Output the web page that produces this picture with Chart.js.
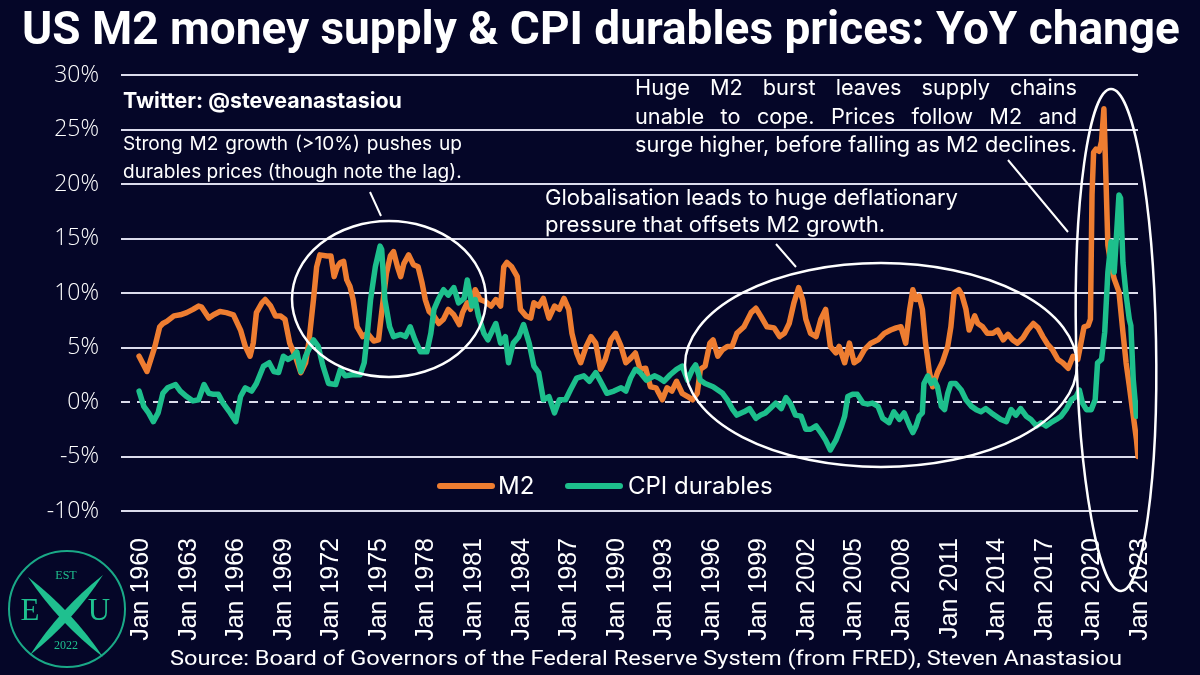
<!DOCTYPE html>
<html>
<head>
<meta charset="utf-8">
<script src="https://cdn.jsdelivr.net/npm/chart.js@4.4.0/dist/chart.umd.min.js"></script>
<style>
  html, body { margin: 0; padding: 0; background: #050628; }
  canvas { display: block; }
</style>
</head>
<body>
<canvas id="chart" width="1200" height="675"></canvas>
<script>
// values (YoY %, dates as decimal years)
const m2Years = [
  1960.0, 1960.5, 1961.0, 1961.3, 1961.5, 1961.75, 1962.2, 1962.6, 1963.0, 1963.4, 1963.75, 1963.95,
  1964.4, 1964.7, 1965.1, 1965.5, 1965.95, 1966.4, 1966.7, 1967.0, 1967.2, 1967.4, 1967.75, 1967.95,
  1968.3, 1968.6, 1968.9, 1969.2, 1969.5, 1969.85, 1970.2, 1970.5, 1970.7, 1971.0, 1971.2, 1971.4,
  1971.85, 1972.1, 1972.3, 1972.5, 1972.7, 1972.9, 1973.1, 1973.3, 1973.5, 1973.75, 1974.1, 1974.4,
  1974.8, 1975.1, 1975.3, 1975.6, 1975.85, 1976.05, 1976.3, 1976.5, 1976.7, 1977.0, 1977.3, 1977.6,
  1977.85, 1978.05, 1978.3, 1978.6, 1978.9, 1979.2, 1979.5, 1979.85, 1980.2, 1980.4, 1980.7, 1980.9,
  1981.2, 1981.5, 1981.85, 1982.2, 1982.5, 1982.8, 1983.0, 1983.2, 1983.5, 1983.85, 1984.05, 1984.4,
  1984.7, 1984.9, 1985.2, 1985.5, 1985.85, 1986.2, 1986.5, 1986.8, 1987.1, 1987.3, 1987.6, 1987.85,
  1988.2, 1988.5, 1988.8, 1989.1, 1989.4, 1989.75, 1990.05, 1990.4, 1990.7, 1991.0, 1991.3, 1991.6,
  1991.95, 1992.25, 1992.6, 1993.0, 1993.3, 1993.6, 1993.9, 1994.25, 1994.6, 1994.9, 1995.2, 1995.4,
  1995.7, 1996.0, 1996.2, 1996.5, 1996.8, 1997.1, 1997.4, 1997.7, 1998.15, 1998.6, 1998.9, 1999.2,
  1999.6, 2000.05, 2000.4, 2000.7, 2001.0, 2001.3, 2001.6, 2001.85, 2002.05, 2002.35, 2002.7, 2003.0,
  2003.3, 2003.6, 2003.95, 2004.15, 2004.5, 2004.8, 2005.1, 2005.4, 2005.75, 2006.15, 2006.6, 2007.0,
  2007.4, 2007.75, 2008.05, 2008.35, 2008.6, 2008.8, 2009.0, 2009.2, 2009.4, 2009.6, 2009.85, 2010.05,
  2010.35, 2010.65, 2011.0, 2011.2, 2011.4, 2011.7, 2011.9, 2012.15, 2012.35, 2012.7, 2012.9, 2013.2,
  2013.5, 2013.85, 2014.15, 2014.5, 2014.8, 2015.1, 2015.4, 2015.75, 2016.05, 2016.4, 2016.7, 2017.0,
  2017.3, 2017.6, 2017.95, 2018.25, 2018.6, 2018.9, 2019.2, 2019.4, 2019.6, 2019.85, 2020.0, 2020.1,
  2020.2, 2020.35, 2020.55, 2020.7, 2020.85, 2021.1, 2021.3, 2021.5, 2021.8, 2022.05, 2022.25, 2022.45,
  2022.65, 2022.9, 2023.0
];
const m2Values = [
  4.2, 2.8, 5.1, 6.9, 7.2, 7.4, 7.9, 8.0, 8.2, 8.5, 8.8, 8.7,
  7.7, 8.0, 8.3, 8.2, 8.0, 6.6, 5.1, 4.2, 5.4, 8.2, 9.1, 9.4,
  8.8, 7.9, 7.9, 7.6, 5.4, 4.2, 2.7, 3.6, 5.4, 9.4, 12.4, 13.5,
  13.4, 13.4, 11.5, 12.4, 12.8, 12.9, 11.2, 10.6, 9.4, 6.9, 6.0, 6.3,
  5.6, 5.7, 8.2, 11.8, 13.4, 13.8, 12.4, 11.5, 12.7, 13.5, 12.6, 12.4,
  10.9, 9.4, 8.3, 7.9, 7.2, 7.6, 8.5, 8.0, 7.1, 8.2, 9.1, 8.5,
  10.3, 9.4, 9.2, 8.8, 9.4, 8.8, 12.4, 12.8, 12.4, 11.5, 8.5, 7.9,
  7.7, 9.1, 8.8, 9.5, 7.7, 8.8, 8.5, 9.5, 8.5, 6.3, 4.5, 3.6,
  5.1, 6.0, 5.4, 3.0, 3.9, 5.7, 6.3, 5.1, 3.6, 4.0, 4.5, 3.0,
  3.1, 1.4, 1.3, 0.2, 1.3, 1.0, 1.9, 0.8, 0.5, 0.2, 0.8, 3.0,
  3.3, 5.4, 5.7, 4.2, 4.8, 5.1, 5.1, 6.3, 6.9, 8.2, 8.6, 7.9,
  6.9, 6.8, 6.0, 6.3, 7.2, 9.1, 10.5, 9.4, 7.6, 6.3, 6.0, 7.6,
  8.5, 5.1, 4.5, 5.1, 3.6, 5.4, 3.6, 3.9, 4.8, 5.4, 5.7, 6.3,
  6.6, 6.8, 6.9, 5.4, 8.5, 10.3, 9.4, 9.7, 8.5, 5.4, 2.7, 1.4,
  2.7, 3.6, 5.1, 6.9, 10.0, 10.3, 9.8, 8.5, 6.6, 7.9, 7.2, 6.9,
  6.3, 6.3, 6.6, 5.7, 6.2, 5.7, 5.4, 5.9, 6.6, 7.2, 6.8, 6.0,
  5.3, 4.8, 3.9, 3.6, 3.1, 4.2, 3.9, 5.4, 6.9, 7.0, 7.6, 19.0,
  22.9, 23.2, 23.0, 23.9, 26.9, 14.4, 12.5, 11.3, 10.1, 6.4, 3.6, 1.5,
  -0.7, -3.4, -5.0
];
const cpiYears = [
  1960.0, 1960.3, 1960.6, 1960.9, 1961.2, 1961.5, 1961.8, 1962.3, 1962.6, 1963.0, 1963.4, 1963.75,
  1964.1, 1964.4, 1964.7, 1965.0, 1965.3, 1965.75, 1966.1, 1966.4, 1966.7, 1967.1, 1967.4, 1967.85,
  1968.2, 1968.5, 1968.8, 1969.1, 1969.4, 1969.75, 1969.95, 1970.2, 1970.5, 1970.8, 1971.0, 1971.3,
  1971.6, 1971.95, 1972.4, 1972.7, 1973.0, 1973.45, 1973.95, 1974.2, 1974.4, 1974.6, 1974.9, 1975.2,
  1975.3, 1975.5, 1975.8, 1976.05, 1976.5, 1976.8, 1977.1, 1977.4, 1977.75, 1978.15, 1978.4, 1978.6,
  1978.9, 1979.2, 1979.5, 1979.85, 1980.15, 1980.5, 1980.7, 1981.0, 1981.2, 1981.4, 1981.75, 1982.0,
  1982.3, 1982.5, 1982.8, 1983.1, 1983.3, 1983.6, 1983.95, 1984.25, 1984.6, 1984.9, 1985.2, 1985.5,
  1985.85, 1986.2, 1986.5, 1986.9, 1987.2, 1987.6, 1988.05, 1988.4, 1988.8, 1989.1, 1989.5, 1989.95,
  1990.4, 1990.7, 1991.0, 1991.3, 1991.6, 1992.0, 1992.5, 1992.8, 1993.1, 1993.5, 1993.9, 1994.25,
  1994.6, 1994.9, 1995.1, 1995.4, 1995.7, 1996.2, 1996.5, 1996.8, 1997.1, 1997.4, 1997.7, 1998.15,
  1998.5, 1998.9, 1999.2, 1999.5, 1999.8, 2000.15, 2000.5, 2000.8, 2001.1, 2001.4, 2001.75, 2002.05,
  2002.35, 2002.7, 2003.0, 2003.3, 2003.6, 2003.95, 2004.3, 2004.5, 2004.7, 2005.0, 2005.3, 2005.65,
  2005.95, 2006.25, 2006.6, 2006.9, 2007.3, 2007.6, 2007.95, 2008.25, 2008.6, 2008.8, 2009.0, 2009.2,
  2009.4, 2009.5, 2009.75, 2009.95, 2010.15, 2010.35, 2010.6, 2010.8, 2011.0, 2011.2, 2011.5, 2011.85,
  2012.15, 2012.5, 2012.8, 2013.1, 2013.4, 2013.75, 2014.05, 2014.35, 2014.7, 2015.0, 2015.3, 2015.6,
  2015.95, 2016.25, 2016.6, 2016.9, 2017.2, 2017.5, 2017.85, 2018.15, 2018.5, 2018.8, 2019.1, 2019.3,
  2019.5, 2019.75, 2020.05, 2020.3, 2020.45, 2020.7, 2020.9, 2021.1, 2021.3, 2021.5, 2021.8, 2021.9,
  2022.05, 2022.25, 2022.45, 2022.55, 2022.7, 2022.9, 2023.0
];
const cpiValues = [
  1.0, -0.4, -1.0, -1.8, -1.0, 0.8, 1.3, 1.6, 1.0, 0.5, 0.1, 0.2,
  1.6, 0.8, 0.7, 0.7, -0.1, -1.0, -1.8, 0.5, 1.3, 1.0, 1.7, 3.3,
  3.6, 2.8, 2.7, 4.2, 3.9, 4.2, 4.6, 2.8, 4.2, 5.1, 5.7, 5.1,
  3.3, 1.7, 1.6, 3.0, 2.4, 2.5, 2.5, 3.6, 6.3, 9.4, 12.4, 14.3,
  14.0, 9.4, 6.9, 6.0, 6.2, 6.0, 6.9, 5.7, 4.6, 4.6, 6.3, 8.5,
  9.5, 10.3, 9.8, 10.5, 9.1, 9.5, 11.2, 8.8, 9.4, 7.9, 6.3, 5.7,
  6.6, 7.2, 5.4, 6.0, 3.6, 5.4, 6.0, 7.1, 5.4, 3.3, 2.7, 0.2,
  0.5, -1.0, 0.2, 0.2, 1.1, 2.2, 2.4, 1.9, 2.7, 1.9, 0.8, 1.0,
  1.3, 1.0, 2.2, 3.0, 2.7, 2.0, 2.4, 2.2, 1.9, 2.5, 3.0, 3.3,
  2.0, 3.0, 3.4, 2.0, 1.7, 1.4, 1.1, 0.8, 0.2, -0.6, -1.2, -0.9,
  -0.6, -1.5, -1.2, -1.0, -0.6, -0.1, -0.6, 0.4, -0.2, -1.2, -1.3, -2.5,
  -2.5, -2.2, -2.8, -3.5, -4.4, -3.5, -2.2, -1.3, 0.5, 0.7, 0.7, -0.1,
  -0.2, -0.1, -0.4, -1.5, -1.9, -0.9, -1.6, -1.0, -2.2, -2.8, -2.2, -1.3,
  -1.0, 1.7, 2.4, 1.7, 2.0, 1.4, -0.4, -0.7, 0.8, 1.7, 1.7, 1.1,
  0.2, -0.4, -0.7, -0.9, -0.6, -1.0, -1.3, -1.6, -1.8, -0.7, -1.2, -0.6,
  -1.3, -1.6, -2.2, -1.9, -2.2, -1.9, -1.6, -1.3, -0.6, 0.2, 0.5, 1.1,
  -0.1, -0.7, -0.7, 0.2, 3.6, 3.9, 6.4, 11.9, 14.7, 11.9, 19.0, 18.7,
  12.8, 9.8, 7.6, 7.0, 2.1, -1.3, -0.1
];
const yearTicks = [1960, 1963, 1966, 1969, 1972, 1975, 1978, 1981, 1984, 1987, 1990,
  1993, 1996, 1999, 2002, 2005, 2008, 2011, 2014, 2017, 2020, 2023];
const seriesNames = ['M2', 'CPI durables'];
const seriesColors = ['#ee7d31', '#1dbf8c'];

const BG = '#050628';
const WHITE = '#ffffff';

function fitFont(ctx, text, weight, family, width) {
  ctx.font = weight + ' 100px ' + family;
  const size = 100 * width / ctx.measureText(text).width;
  return weight + ' ' + size.toFixed(2) + 'px ' + family;
}

function justify(ctx, text, x, y, width) {
  const words = text.split(' ');
  const total = words.reduce((s, w) => s + ctx.measureText(w).width, 0);
  const gap = (width - total) / (words.length - 1);
  let cx = x;
  words.forEach(w => {
    ctx.fillText(w, cx, y);
    cx += ctx.measureText(w).width + gap;
  });
}

function blade(ctx, x1, y1, x2, y2, w) {
  const mx = (x1 + x2) / 2, my = (y1 + y2) / 2;
  const len = Math.hypot(x2 - x1, y2 - y1);
  const nx = -(y2 - y1) / len * w, ny = (x2 - x1) / len * w;
  ctx.beginPath();
  ctx.moveTo(x1, y1);
  ctx.quadraticCurveTo(mx + nx, my + ny, x2, y2);
  ctx.quadraticCurveTo(mx - nx, my - ny, x1, y1);
  ctx.fill();
}

const decor = {
  id: 'decor',
  beforeDraw(chart) {
    const ctx = chart.ctx;
    ctx.save();
    ctx.fillStyle = BG;
    ctx.fillRect(0, 0, chart.width, chart.height);
    ctx.restore();
  },
  beforeDatasetsDraw(chart) {
    const ctx = chart.ctx;
    const area = chart.chartArea;
    const y0 = chart.scales.y.getPixelForValue(0);
    ctx.save();
    ctx.strokeStyle = '#dcdcec';
    ctx.lineWidth = 2;
    ctx.setLineDash([9, 7]);
    ctx.beginPath();
    ctx.moveTo(area.left, y0);
    ctx.lineTo(area.right, y0);
    ctx.stroke();
    ctx.restore();
  },
  afterDraw(chart) {
    const ctx = chart.ctx;
    ctx.save();
    ctx.fillStyle = WHITE;
    ctx.textBaseline = 'middle';
    ctx.textAlign = 'left';

    // title
    const title = 'US M2 money supply & CPI durables prices: YoY change';
    ctx.font = fitFont(ctx, title, 'bold', 'Roboto, "Liberation Sans", sans-serif', 1158);
    ctx.fillText(title, 22, 33);

    // annotations
    const tw = 'Twitter: @steveanastasiou';
    ctx.font = fitFont(ctx, tw, '700', 'Inter, sans-serif', 279);
    ctx.fillText(tw, 123, 102);

    ctx.font = fitFont(ctx, 'durables prices (though note the lag).', '400', 'Inter, sans-serif', 339);
    justify(ctx, 'Strong M2 growth (>10%) pushes up', 123, 144, 339);
    ctx.fillText('durables prices (though note the lag).', 123, 172);

    ctx.font = fitFont(ctx, 'Globalisation leads to huge deflationary', '400', 'Inter, sans-serif', 413);
    ctx.fillText('Globalisation leads to huge deflationary', 545, 198);
    ctx.fillText('pressure that offsets M2 growth.', 545, 225);

    ctx.font = fitFont(ctx, 'surge higher, before falling as M2 declines.', '400', 'Inter, sans-serif', 442);
    justify(ctx, 'Huge M2 burst leaves supply chains', 635, 88, 442);
    justify(ctx, 'unable to cope. Prices follow M2 and', 635, 117, 442);
    ctx.fillText('surge higher, before falling as M2 declines.', 635, 145);

    // ellipses and pointers
    ctx.strokeStyle = WHITE;
    ctx.lineWidth = 2.5;
    ctx.beginPath();
    ctx.ellipse(389, 299, 97, 78, 0, 0, Math.PI * 2);
    ctx.stroke();
    ctx.beginPath();
    ctx.ellipse(881, 365, 196, 102, 0, 0, Math.PI * 2);
    ctx.stroke();
    ctx.beginPath();
    ctx.ellipse(1116, 340, 40, 251, -0.02, 0, Math.PI * 2);
    ctx.stroke();
    ctx.lineWidth = 2;
    ctx.beginPath();
    ctx.moveTo(370, 192); ctx.lineTo(381, 216);
    ctx.moveTo(776, 244); ctx.lineTo(796, 267);
    ctx.moveTo(1008, 160); ctx.lineTo(1068, 232);
    ctx.stroke();

    // legend
    ctx.lineCap = 'round';
    ctx.lineWidth = 6;
    ctx.font = '400 24px Inter, sans-serif';
    [[440, 492, 498], [568, 620, 628]].forEach((p, i) => {
      ctx.strokeStyle = seriesColors[i];
      ctx.beginPath();
      ctx.moveTo(p[0], 486); ctx.lineTo(p[1], 486);
      ctx.stroke();
      ctx.fillText(seriesNames[i], p[2], 487);
    });

    // logo
    const teal = '#1fc08f';
    ctx.strokeStyle = '#1aa987';
    ctx.lineWidth = 2;
    ctx.beginPath();
    ctx.arc(67, 609, 58, 0, Math.PI * 2);
    ctx.stroke();
    ctx.fillStyle = teal;
    blade(ctx, 28, 577, 103, 657, 9);
    blade(ctx, 103, 575, 30, 655, 9);
    ctx.textAlign = 'center';
    ctx.font = '12px "Liberation Serif", serif';
    ctx.fillText('EST', 66, 576);
    ctx.fillText('2022', 66, 646);
    ctx.font = '31px "Liberation Serif", serif';
    ctx.fillText('E', 30, 612);
    ctx.fillText('U', 99, 612);

    // source
    const src = 'Source: Board of Governors of the Federal Reserve System (from FRED), Steven Anastasiou';
    ctx.fillStyle = WHITE;
    ctx.textAlign = 'left';
    ctx.font = '20px Roboto, sans-serif';
    const sw = ctx.measureText(src).width;
    ctx.translate(170, 660);
    ctx.scale(952 / sw, 1);
    ctx.fillText(src, 0, 0);
    ctx.restore();
  }
};

const toPoints = (xs, ys) => xs.map((x, i) => ({ x: x, y: ys[i] }));

new Chart(document.getElementById('chart'), {
  type: 'line',
  data: {
    datasets: [
      { label: seriesNames[1], data: toPoints(cpiYears, cpiValues), borderColor: seriesColors[1] },
      { label: seriesNames[0], data: toPoints(m2Years, m2Values), borderColor: seriesColors[0] }
    ]
  },
  options: {
    responsive: false,
    animation: false,
    devicePixelRatio: 1,
    layout: { padding: { left: 0, right: 62, top: 75, bottom: 0 } },
    plugins: { legend: { display: false }, tooltip: { enabled: false } },
    elements: {
      point: { radius: 0 },
      line: { borderWidth: 5.5, tension: 0, borderJoinStyle: 'round', borderCapStyle: 'round' }
    },
    scales: {
      x: {
        type: 'linear',
        min: 1958.86,
        max: 2023.0,
        afterBuildTicks: s => { s.ticks = yearTicks.map(v => ({ value: v })); },
        afterFit: s => { s.height = 164; },
        grid: { display: false },
        border: { display: false },
        ticks: {
          autoSkip: false, minRotation: 90, maxRotation: 90, padding: 19, labelOffset: 2,
          color: WHITE, font: { family: '"Liberation Sans", Arial, sans-serif', size: 25 },
          callback: v => 'Jan ' + v
        }
      },
      y: {
        min: -10,
        max: 30,
        afterFit: s => { s.width = 121; },
        border: { display: false },
        grid: {
          color: c => (c.tick && c.tick.value === 0) ? 'rgba(0,0,0,0)' : '#dcdcec',
          lineWidth: 2,
          drawTicks: false
        },
        ticks: {
          stepSize: 5, padding: 22, color: WHITE,
          font: { family: '"Open Sans", sans-serif', size: 23, weight: '300' },
          callback: v => v + '%'
        }
      }
    }
  },
  plugins: [decor]
});
</script>
</body>
</html>
